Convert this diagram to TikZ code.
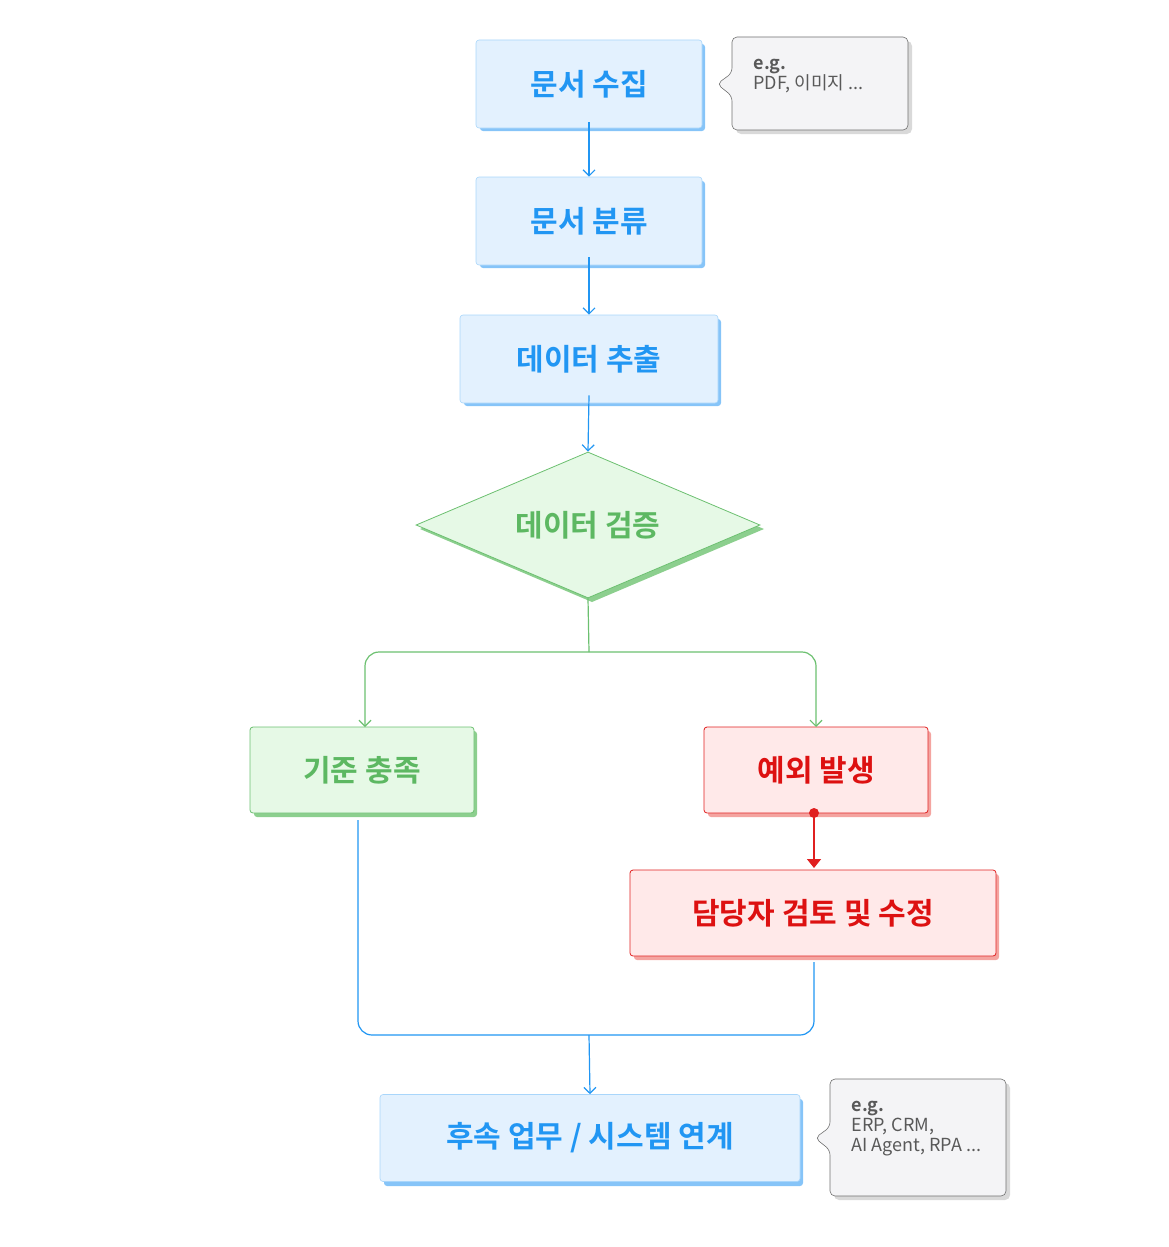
\documentclass[tikz,border=0pt]{standalone}
\usepackage{fontspec}
\setmainfont{Noto Sans CJK KR}[BoldFont={* Bold}]
\usetikzlibrary{shapes.geometric,arrows.meta}
\definecolor{bfill}{HTML}{E3F1FE}\definecolor{bline}{HTML}{2196F3}\definecolor{bsh}{HTML}{86C4F8}
\definecolor{gfill}{HTML}{E6F9E6}\definecolor{gline}{HTML}{6CC070}\definecolor{gsh}{HTML}{8CCF8E}\definecolor{gtext}{HTML}{5DB862}
\definecolor{rfill}{HTML}{FFE9E9}\definecolor{rline}{HTML}{E02020}\definecolor{rsh}{HTML}{F4A4A0}\definecolor{rtext}{HTML}{DD1111}
\definecolor{cfill}{HTML}{F4F4F6}\definecolor{cline}{HTML}{707070}
\begin{document}
\begin{tikzpicture}[x=1pt,y=-1pt,
 box/.style={rectangle,rounded corners=3pt,font=\bfseries\fontsize{30}{34}\selectfont,inner sep=0},
 blue/.style={box,fill=bfill,draw=bfill!70!bline,text=bline,line width=0.6pt},
 green/.style={box,fill=gfill,draw=gline,text=gtext,line width=0.8pt},
 red/.style={box,fill=rfill,draw=rline,text=rtext,line width=0.8pt},
 barr/.style={draw=bline,line width=1.2pt,-{Straight Barb[length=6pt,width=12pt]}},
 garr/.style={draw=gline,line width=1.2pt,rounded corners=14pt,-{Straight Barb[length=6pt,width=12pt]}},
 note/.style={font=\fontsize{18}{23}\selectfont,text=black!65,align=left}]
\useasboundingbox (0,0) rectangle (1168,1247);
\def\bx#1#2#3#4#5#6#7{%
 \fill[#6,rounded corners=3pt] (#2+4,#3+4) rectangle (#4+4,#5+4);
 \node[#7,minimum width=#4-#2,minimum height=#5-#3] (#1) at ({(#2+#4)/2},{(#3+#5)/2}) {#6text};}
% shadows + boxes
\fill[bsh,rounded corners=3pt] (480,44) rectangle (705,131);
\node[blue,minimum width=226pt,minimum height=88pt] (a) at (589,84) {문서 수집};
\fill[bsh,rounded corners=3pt] (480,181) rectangle (705,268);
\node[blue,minimum width=226pt,minimum height=88pt] (b) at (589,221) {문서 분류};
\fill[bsh,rounded corners=3pt] (464,319) rectangle (721,406);
\node[blue,minimum width=258pt,minimum height=88pt] (c) at (589,359) {데이터 추출};
\fill[gsh] (420,529) -- (592,457) -- (764,529) -- (592,602) -- cycle;
\node[diamond,fill=gfill,draw=gline,line width=0.8pt,text=gtext,font=\bfseries\fontsize{30}{34}\selectfont,minimum width=344pt,minimum height=146pt,aspect=2.36,inner sep=0] (d) at (588,525) {};
\node[text=gtext,font=\bfseries\fontsize{30}{34}\selectfont] at (d.center) {데이터 검증};
\fill[gsh,rounded corners=3pt] (254,731) rectangle (477,817);
\node[green,minimum width=224pt,minimum height=86pt] (e) at (362,770) {기준 충족};
\fill[rsh,rounded corners=3pt] (708,731) rectangle (931,817);
\node[red,minimum width=224pt,minimum height=86pt] (f) at (816,770) {예외 발생};
\fill[rsh,rounded corners=3pt] (634,874) rectangle (999,960);
\node[red,minimum width=366pt,minimum height=86pt] (g) at (813,913) {담당자 검토 및 수정};
\fill[bsh,rounded corners=3pt] (384,1099) rectangle (803,1186);
\node[blue,minimum width=420pt,minimum height=87pt] (h) at (590,1138) {후속 업무 / 시스템 연계};
% callouts
\fill[black!15,rounded corners=5pt] (736,41) rectangle (912,134);
\draw[cline,fill=cfill,line width=0.6pt,rounded corners=5pt] (732,37) -- (908,37) -- (908,130) -- (732,130) -- (732,96) -- (717,84) -- (732,73) -- cycle;
\node[note,anchor=north west] (n1) at (750,56) {\textbf{e.g.}\\[-3pt]PDF, 이미지 ...};
\fill[black!15,rounded corners=5pt] (834,1083) rectangle (1010,1200);
\draw[cline,fill=cfill,line width=0.6pt,rounded corners=5pt] (830,1079) -- (1006,1079) -- (1006,1196) -- (830,1196) -- (830,1150) -- (815,1138) -- (830,1127) -- cycle;
\node[note,anchor=north west] (n2) at (848,1098) {\textbf{e.g.}\\[-3pt]ERP, CRM,\\[-3pt]AI Agent, RPA ...};
% connectors
\draw[barr] ([yshift=6pt]a.south) -- (b.north);
\draw[barr] ([yshift=8pt]b.south) -- (c.north);
\draw[barr] ([yshift=8pt]c.south) -- (d.north);
\coordinate (j) at (589,652);
\draw[gline,line width=1.2pt] (d.south) -- (j);
\draw[garr] (j) -- (365,652) -- (365,727);
\draw[garr] (j) -- (816,652) -- (816,727);
\fill[rline] (814,813) circle (5pt);
\draw[rline,line width=1.5pt,-{Triangle[length=9pt,width=14pt]}] (814,813) -- (814,868);
\coordinate (k) at (589,1035);
\draw[bline,line width=1.2pt,rounded corners=14pt] (358,820) -- (358,1035) -- (814,1035) -- (814,962);
\draw[barr] (k) -- (h.north);
\end{tikzpicture}
\end{document}
